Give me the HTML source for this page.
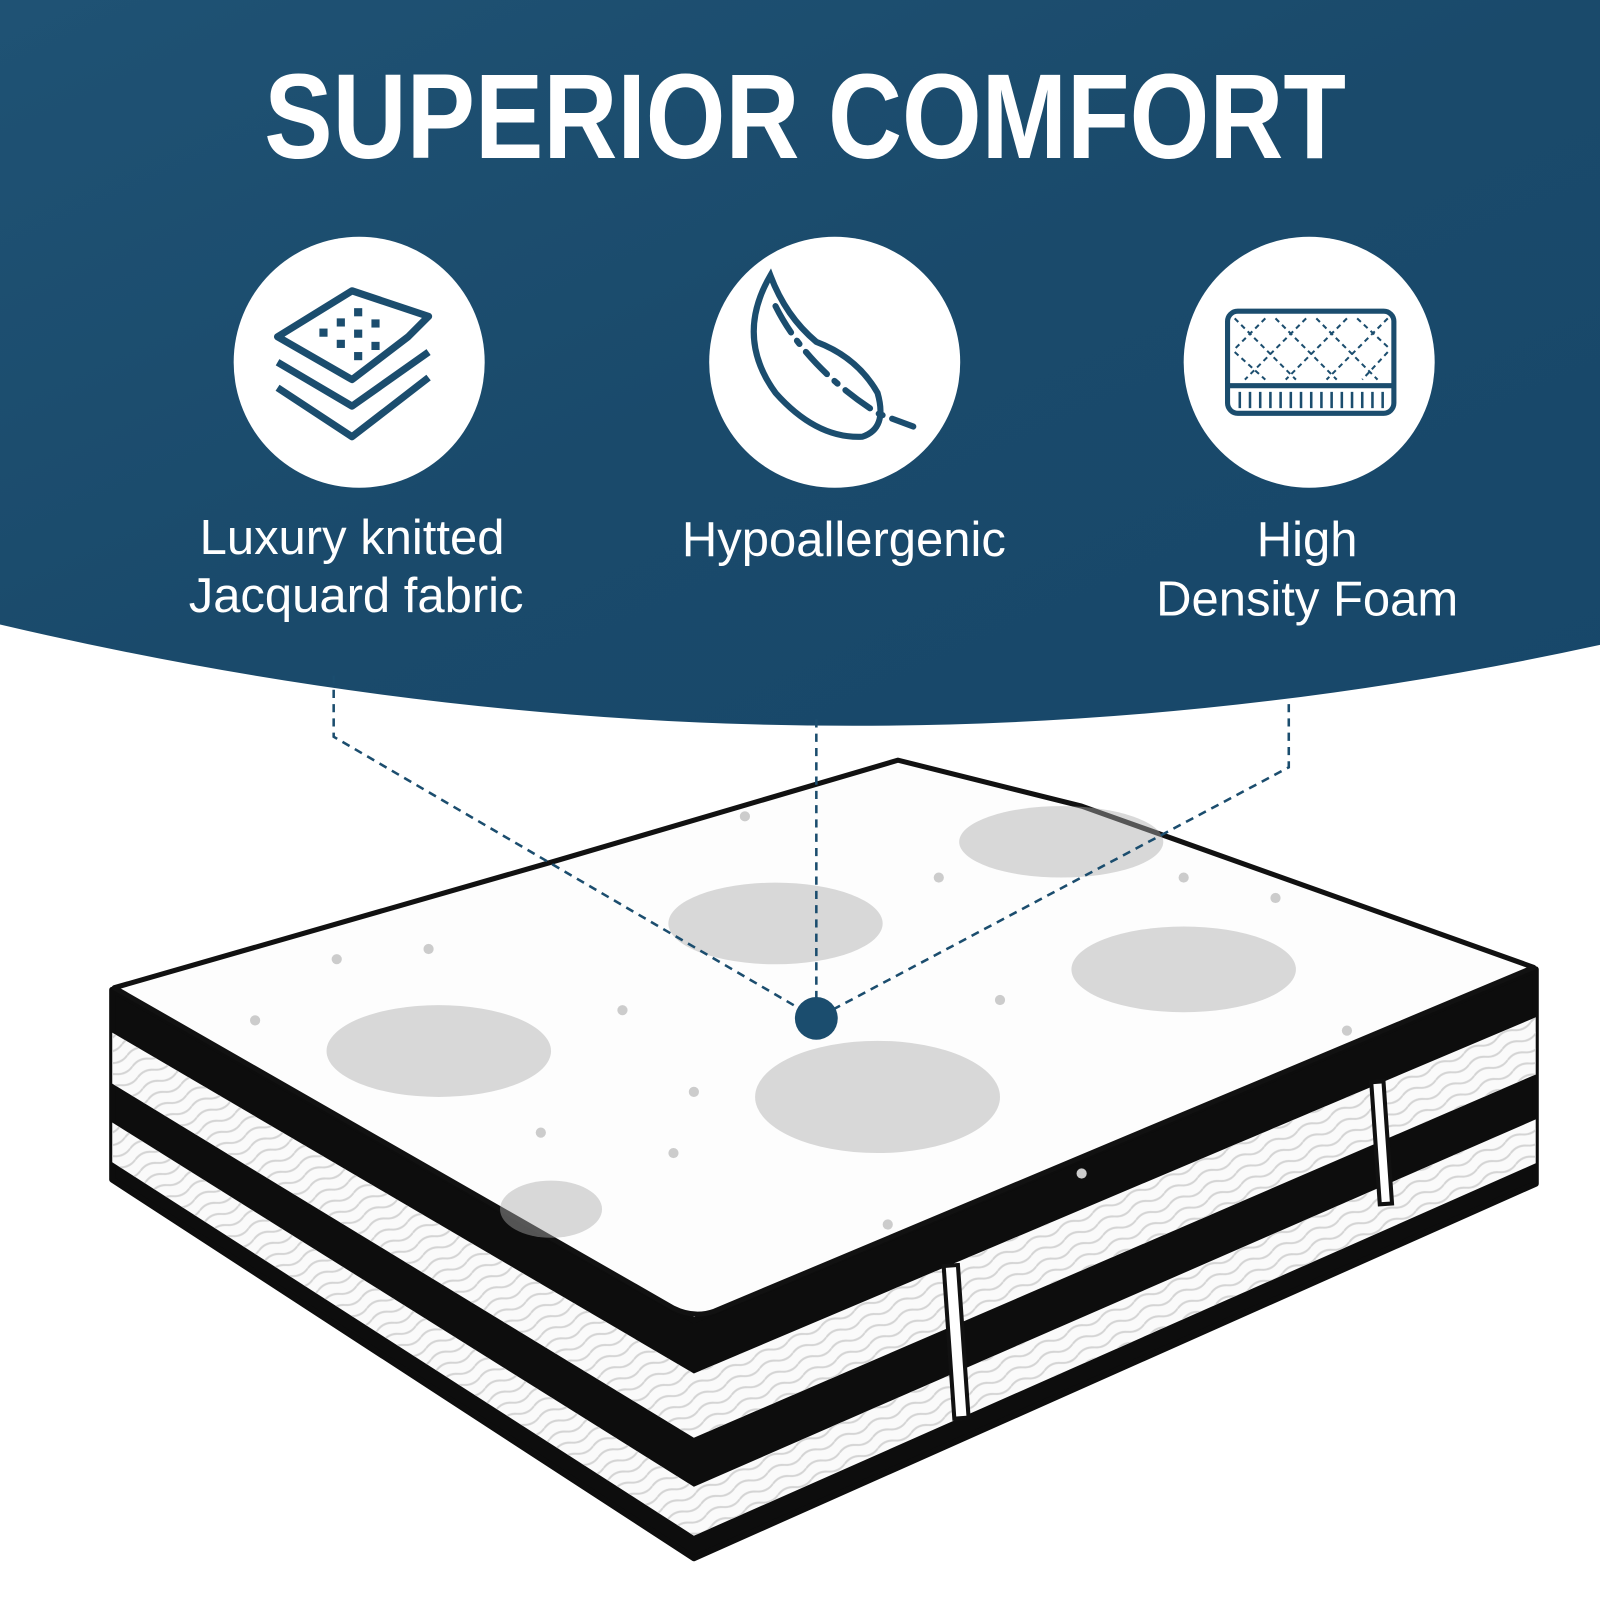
<!DOCTYPE html>
<html><head><meta charset="utf-8"><style>
html,body{margin:0;padding:0;background:#fff;width:1600px;height:1600px;overflow:hidden}
svg{display:block}
</style></head><body>
<svg width="1600" height="1600" viewBox="0 0 1568 1568" xmlns="http://www.w3.org/2000/svg">
<defs>
<linearGradient id="bg" x1="0" y1="0" x2="1" y2="1">
<stop offset="0" stop-color="#1f5274"/><stop offset="0.5" stop-color="#1a4a6b"/><stop offset="1" stop-color="#17476a"/>
</linearGradient>
<pattern id="wave" width="36" height="12" patternUnits="userSpaceOnUse" patternTransform="rotate(-25)">
<path d="M0 6 Q9 1 18 6 T36 6" fill="none" stroke="#d4d4d4" stroke-width="2"/>
</pattern>
</defs>
<rect width="1568" height="1568" fill="#fff"/>
<path d="M0 0 H1568 V632 Q800 800 0 612 Z" fill="url(#bg)"/>
<text x="789" y="155" text-anchor="middle" font-family="Liberation Sans, sans-serif" font-weight="bold" font-size="118" fill="#fff" textLength="1060" lengthAdjust="spacingAndGlyphs">SUPERIOR COMFORT</text>

<circle cx="352" cy="355" r="123" fill="#fff"/>
<circle cx="818" cy="355" r="123" fill="#fff"/>
<circle cx="1283" cy="355" r="123" fill="#fff"/>

<g fill="none" stroke="#1b4d6e" stroke-width="7" stroke-linejoin="round">
<path d="M272 330 L345 285 L420 310 L400 330 L345 372 Z"/>
<path d="M272 355 L345 398 L420 345"/>
<path d="M272 380 L345 428 L420 370"/>
</g>
<g fill="#1b4d6e">
<rect x="313" y="322" width="8" height="8"/><rect x="330" y="312" width="8" height="8"/><rect x="347" y="302" width="8" height="8"/>
<rect x="330" y="333" width="8" height="8"/><rect x="347" y="323" width="8" height="8"/><rect x="364" y="313" width="8" height="8"/>
<rect x="347" y="345" width="8" height="8"/><rect x="364" y="335" width="8" height="8"/>
</g>
<g fill="none" stroke="#1b4d6e" stroke-width="6" stroke-linecap="round">
<path d="M755 270 Q720 330 760 385 Q800 430 845 428 Q870 420 860 385 Q840 350 800 335 Q770 310 755 270 Z"/>
<path d="M760 300 Q790 360 860 405 L895 418" stroke-dasharray="30 10 4 10"/>
</g>
<g fill="none" stroke="#1b4d6e" stroke-width="5">
<rect x="1203" y="305" width="163" height="100" rx="10"/>
<line x1="1203" y1="378" x2="1366" y2="378"/>
<g stroke-width="2" stroke-dasharray="5 4">
<path d="M1210 312 L1270 372 M1250 312 L1310 372 M1290 312 L1350 372 M1210 345 L1240 372 M1330 312 L1360 340"/>
<path d="M1360 312 L1300 372 M1320 312 L1260 372 M1280 312 L1220 372 M1240 312 L1210 342 M1360 345 L1335 372"/>
</g>
<path d="M1215 384 V400 M1225 384 V400 M1235 384 V400 M1245 384 V400 M1255 384 V400 M1265 384 V400 M1275 384 V400 M1285 384 V400 M1295 384 V400 M1305 384 V400 M1315 384 V400 M1325 384 V400 M1335 384 V400 M1345 384 V400 M1355 384 V400" stroke-width="2.5"/>
</g>

<g font-family="Liberation Sans, sans-serif" font-size="48" fill="#fff" text-anchor="middle">
<text x="345" y="543">Luxury knitted</text>
<text x="349" y="600">Jacquard fabric</text>
<text x="827" y="545">Hypoallergenic</text>
<text x="1281" y="545">High</text>
<text x="1281" y="603">Density Foam</text>
</g>

<!-- mattress -->
<polygon points="110,970 680,1294 1505,950 1505,1160 680,1527 110,1156" fill="#0d0d0d" stroke="#0d0d0d" stroke-width="6" stroke-linejoin="round"/>
<polygon points="110,1012 680,1346 1505,997 1505,1053 680,1409 110,1062" fill="#fafafa"/>
<polygon points="110,1012 680,1346 1505,997 1505,1053 680,1409 110,1062" fill="url(#wave)"/>
<polygon points="110,1100 680,1457 1505,1097 1505,1140 680,1505 110,1139" fill="#fafafa"/>
<polygon points="110,1100 680,1457 1505,1097 1505,1140 680,1505 110,1139" fill="url(#wave)"/>
<path d="M112 968 L540 845 L880 745 L1060 790 L1503 948 L700 1285 Q680 1292 660 1282 Z" fill="#fdfdfd" stroke="#111" stroke-width="5" stroke-linejoin="round"/>
<g fill="#aaa" opacity="0.45">
<ellipse cx="430" cy="1030" rx="110" ry="45"/><ellipse cx="860" cy="1075" rx="120" ry="55"/>
<ellipse cx="760" cy="905" rx="105" ry="40"/><ellipse cx="1160" cy="950" rx="110" ry="42"/>
<ellipse cx="1040" cy="825" rx="100" ry="35"/><ellipse cx="540" cy="1185" rx="50" ry="28"/>
</g>
<g fill="#ccc">
<circle cx="250" cy="1000" r="5"/><circle cx="330" cy="940" r="5"/><circle cx="610" cy="990" r="5"/><circle cx="680" cy="1070" r="5"/>
<circle cx="530" cy="1110" r="5"/><circle cx="660" cy="1130" r="5"/><circle cx="980" cy="980" r="5"/><circle cx="920" cy="860" r="5"/>
<circle cx="1250" cy="880" r="5"/><circle cx="1320" cy="1010" r="5"/><circle cx="1060" cy="1150" r="5"/><circle cx="870" cy="1200" r="5"/>
<circle cx="730" cy="800" r="5"/><circle cx="1160" cy="860" r="5"/><circle cx="420" cy="930" r="5"/>
</g>
<g fill="#fff" stroke="#111" stroke-width="4">
<rect x="930" y="1240" width="14" height="150" transform="rotate(-4 937 1315)"/>
<rect x="1348" y="1060" width="12" height="120" transform="rotate(-4 1354 1120)"/>
</g>

<g fill="none" stroke="#1b4d6e" stroke-width="2.5" stroke-dasharray="8 6">
<path d="M327 662 V722 L800 998"/>
<path d="M800 705 V998"/>
<path d="M1263 690 V752 L800 998"/>
</g>
<circle cx="800" cy="998" r="21" fill="#1b4d6e"/>
</svg>
</body></html>
